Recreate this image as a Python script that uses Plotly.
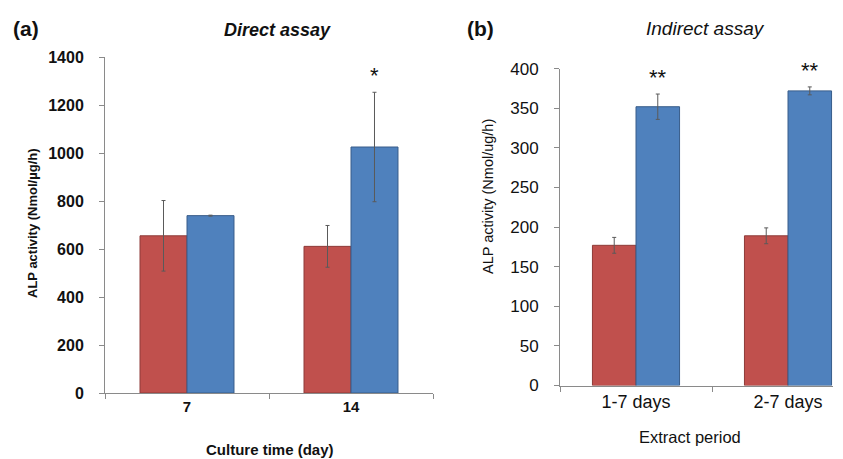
import plotly.graph_objects as go

# ---- data ----
days = ["7", "14"]
direct_red = [655, 611]
direct_red_err = [147, 87]
direct_blue = [739, 1025]
direct_blue_err = [2, 228]
direct_sig = ["", "*"]

periods = ["1-7 days", "2-7 days"]
indirect_red = [177, 189]
indirect_red_err = [10, 10]
indirect_blue = [352, 372]
indirect_blue_err = [16, 5]
indirect_sig = ["**", "**"]

left_yticks = [0, 200, 400, 600, 800, 1000, 1200, 1400]
right_yticks = [0, 50, 100, 150, 200, 250, 300, 350, 400]

RED = "#C0504D"
BLUE = "#4F81BD"
RED_EDGE = "#8E3B38"
BLUE_EDGE = "#385D8A"
ERR = "#5a5a5a"
AXIS = "#8a8a8a"
FONT = "Liberation Sans, Arial, sans-serif"
W, H = 843, 459
OFF = 8  # page body margin

fig = go.Figure()

def bar(x, y, err, color, edge, xa, ya):
    return go.Bar(
        x=x, y=y, xaxis=xa, yaxis=ya,
        marker=dict(color=color, line=dict(color=edge, width=1)),
        error_y=dict(type="data", array=err, visible=True, color=ERR, thickness=1, width=2),
        showlegend=False,
    )

fig.add_trace(bar(days, direct_red, direct_red_err, RED, RED_EDGE, "x", "y"))
fig.add_trace(bar(days, direct_blue, direct_blue_err, BLUE, BLUE_EDGE, "x", "y"))
fig.add_trace(bar(periods, indirect_red, indirect_red_err, RED, RED_EDGE, "x2", "y2"))
fig.add_trace(bar(periods, indirect_blue, indirect_blue_err, BLUE, BLUE_EDGE, "x2", "y2"))

def px_x(p):
    return (p - OFF) / W

def px_y(p):
    return 1 - (p - OFF) / H

bargap_l = 0.427
bargap_r = 0.43

common_axis = dict(showgrid=False, zeroline=False, showline=True, linecolor=AXIS, linewidth=1,
                   ticks="outside", tickcolor=AXIS, ticklen=5, tickwidth=1, fixedrange=True,
                   automargin=False)

fig.update_layout(
    width=W, height=H,
    margin=dict(l=0, r=0, t=0, b=0, pad=0, autoexpand=False),
    paper_bgcolor="white", plot_bgcolor="white",
    barmode="group", bargap=bargap_l, bargroupgap=0,
    font=dict(family=FONT, color="#111111"),
    xaxis=dict(domain=[px_x(105), px_x(433)], anchor="y", tickson="boundaries",
               range=[-0.5, 1.5], type="category",
               tickfont=dict(size=15, family=FONT, weight="bold"), **common_axis),
    yaxis=dict(domain=[px_y(393), px_y(57)], anchor="x", range=[0, 1400],
               tickvals=left_yticks, ticklabelstandoff=12,
               tickfont=dict(size=16, family=FONT, weight="bold"), **common_axis),
    xaxis2=dict(domain=[px_x(560), px_x(833)], anchor="y2", tickson="boundaries",
                range=[-0.5, 1.296], type="category",
                tickfont=dict(size=18, family=FONT), **common_axis),
    yaxis2=dict(domain=[px_y(385.5), px_y(68.7)], anchor="x2", range=[0, 400],
                tickvals=right_yticks, ticklabelstandoff=12,
                tickfont=dict(size=17, family=FONT), **common_axis),
)

def label(text, x, y, size, angle=0):
    return dict(text=text, x=px_x(x), y=px_y(y), xref="paper", yref="paper",
                xanchor="center", yanchor="middle", showarrow=False, textangle=angle,
                font=dict(size=size, family=FONT, color="#111111"))

ann = [
    label("<b>(a)</b>", 26, 29, 21),
    label("<b>(b)</b>", 480, 29, 21),
    label("<b><i>Direct assay</i></b>", 277, 30, 18),
    label("<i>Indirect assay</i>", 705, 29, 19),
    label("<b>ALP activity (Nmol/µg/h)</b>", 33, 223, 13, -90),
    label("ALP activity (Nmol/ug/h)", 488, 197, 14.5, -90),
    label("<b>Culture time (day)</b>", 270, 449, 15),
    label("Extract period", 690, 437, 16.5),
]

# significance stars above blue bars
off_l = (1 - bargap_l) / 4
for i, s in enumerate(direct_sig):
    if s:
        ann.append(dict(text=s, x=i + off_l, y=direct_blue[i] + direct_blue_err[i], xref="x", yref="y",
                        xanchor="center", yanchor="bottom", yshift=2, showarrow=False,
                        font=dict(size=22, family=FONT, color="#111111")))
off_r = (1 - bargap_r) / 4
for i, s in enumerate(indirect_sig):
    if s:
        ann.append(dict(text=s, x=i + off_r, y=indirect_blue[i] + indirect_blue_err[i], xref="x2", yref="y2",
                        xanchor="center", yanchor="bottom", yshift=2, showarrow=False,
                        font=dict(size=22, family=FONT, color="#111111")))

fig.update_layout(annotations=ann)
fig.write_html("out.html")
